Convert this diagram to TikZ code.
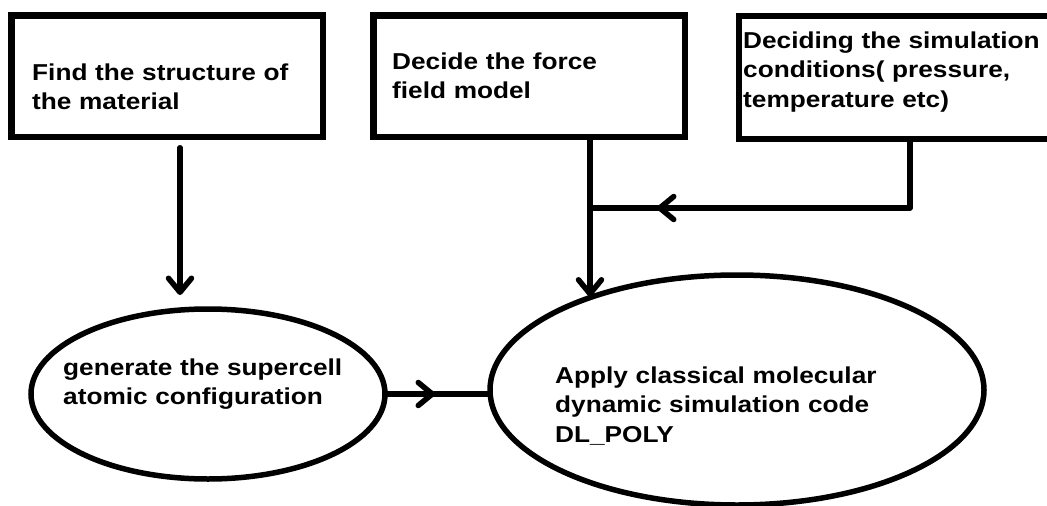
\documentclass[tikz,border=0pt]{standalone}
\usepackage{fontspec}
\newfontfamily\lblfont[FakeStretch=1.14]{Liberation Sans}
\usetikzlibrary{shapes.geometric,arrows.meta,decorations.markings}

\tikzset{
  stepbox/.style={draw, line width=6.5pt, rectangle, inner sep=0pt, outer sep=0pt},
  blob/.style={draw, line width=5.5pt, ellipse, inner sep=0pt, outer sep=0pt},
  lbl/.style={anchor=base west, inner sep=0pt, align=left, text width=420pt,
    font=\lblfont\bfseries\fontsize{23}{29.5}\selectfont},
  barb/.tip={Straight Barb[length=14pt, width=23pt, round]},
  flow/.style={line width=5.5pt, line cap=round, line join=round},
  midarrow/.style={postaction={decorate}, decoration={markings,
    mark=at position #1 with {\arrow{barb}}}}
}

\begin{document}
\begin{tikzpicture}[x=1pt, y=-1pt]
  \fill[white] (0,0) rectangle (1047,506);
  \useasboundingbox (0,0) rectangle (1047,506);

  % the three input boxes
  \node[stepbox, minimum width=311.5pt, minimum height=121.5pt] (b1) at (167,76) {};
  \node[stepbox, minimum width=311.5pt, minimum height=121.5pt] (b2) at (529,76) {};
  \node[stepbox, minimum width=321pt, minimum height=123pt] (b3) at (899.5,77.5) {};

  % the two process ellipses
  \node[blob, minimum width=354pt, minimum height=170pt] (e1) at (208,394) {};
  \node[blob, minimum width=494pt, minimum height=230pt] (e2) at (737,390) {};

  % labels
  \node[lbl] (t1) at (32,80) {Find the structure of\\the material};
  \node[lbl] (t2) at (392,69) {Decide the force\\field model};
  \node[lbl] (t3) at (743,48) {Deciding the simulation\\conditions( pressure,\\temperature etc)};
  \node[lbl] (t4) at (63,375) {generate the supercell\\atomic configuration};
  \node[lbl] (t5) at (555,383) {Apply classical molecular\\dynamic simulation code\\DL\_POLY};

  % junction where the conditions line meets the force field line
  \coordinate (j) at ([xshift=61pt]b2.south |- 0,208);

  % connectors
  \draw[flow, -{barb}] ([shift={(13,11)}]b1.south) -- ([shift={(-28,-14)}]e1.north);
  \draw[flow, -{barb}] ([xshift=61pt]b2.south) -- (j) -- (j |- e2.147.8);
  \draw[flow, midarrow=322pt] ([xshift=10.5pt]b3.south) |- (j);
  \draw[flow, midarrow=50pt] (e1.east) -- (e1.east -| e2.west);
\end{tikzpicture}
\end{document}
